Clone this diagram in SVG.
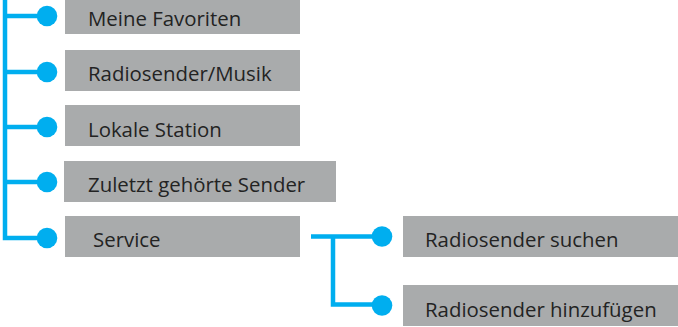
<svg xmlns="http://www.w3.org/2000/svg" width="678" height="327" viewBox="0 0 678 327">
<style>
.box{fill:#a9abac}
.lbl{font-family:"Open Sans","Liberation Sans",sans-serif;font-size:20.4px;fill:#232323}
.ln{fill:none;stroke:#00aeef;stroke-width:4.5}
.dot{fill:#00aeef}
</style>
<rect width="678" height="327" fill="#ffffff"/>
<g id="connectors">
<path class="ln" d="M5,0 V238 H47"/>
<path class="ln" d="M5,16 H47 M5,72 H47 M5,127 H47 M5,182 H47"/>
<path class="ln" d="M311,236.5 H382 M333,236.5 V304.5 H382"/>
<circle class="dot" cx="47" cy="16" r="10.3"/>
<circle class="dot" cx="47" cy="72" r="10.3"/>
<circle class="dot" cx="47" cy="127" r="10.3"/>
<circle class="dot" cx="47" cy="182" r="10.3"/>
<circle class="dot" cx="47" cy="238" r="10.3"/>
<circle class="dot" cx="382" cy="236.5" r="10.3"/>
<circle class="dot" cx="382" cy="305.5" r="10.3"/>
</g>
<g id="n1"><rect class="box" x="65" y="-6" width="235" height="40"/><text class="lbl" x="88" y="26">Meine Favoriten</text></g>
<g id="n2"><rect class="box" x="65" y="50" width="235" height="41"/><text class="lbl" x="88" y="81">Radiosender/Musik</text></g>
<g id="n3"><rect class="box" x="65" y="105" width="235" height="41"/><text class="lbl" x="88" y="136.5">Lokale Station</text></g>
<g id="n4"><rect class="box" x="64" y="161" width="272" height="41"/><text class="lbl" x="88" y="192">Zuletzt gehörte Sender</text></g>
<g id="n5"><rect class="box" x="65" y="216" width="235" height="41"/><text class="lbl" x="93" y="247">Service</text></g>
<g id="n6"><rect class="box" x="403" y="216" width="275" height="41"/><text class="lbl" x="425" y="247">Radiosender suchen</text></g>
<g id="n7"><rect class="box" x="403" y="285" width="275" height="41"/><text class="lbl" x="425" y="317">Radiosender hinzufügen</text></g>
</svg>
